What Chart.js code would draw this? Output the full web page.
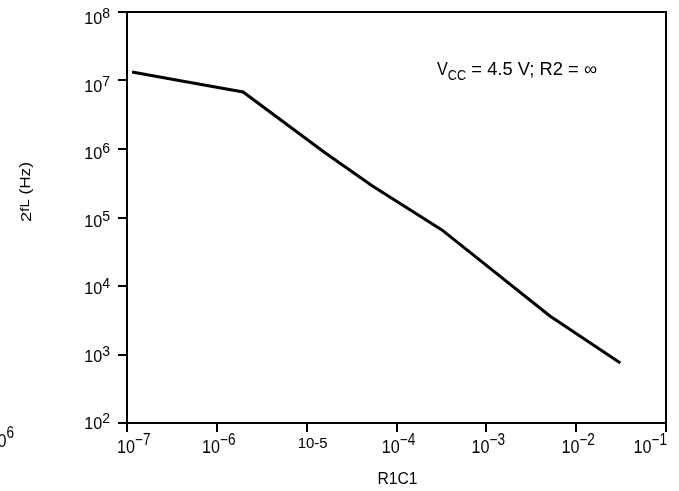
<!DOCTYPE html>
<html><head><meta charset="utf-8">
<script src="https://cdn.jsdelivr.net/npm/chart.js@4/dist/chart.umd.min.js"></script>
<style>html,body{margin:0;padding:0;background:#fff;}#wrap{width:679px;height:491px;}</style>
</head><body><div id="wrap"><canvas id="c" width="679" height="491"></canvas></div>
<script>
// ---- data ----
const rcValues   = [1.14e-7, 4.7e-7, 1.96e-6, 1.6e-5, 5.35e-5, 3.2e-4, 5.1e-3, 3.1e-2];
const freqValues = [1.33e7, 9.5e6, 6.8e6, 8.8e5, 2.9e5, 6.6e4, 3.65e3, 7.5e2];
const xTickValues = [1e-7, 1e-6, 1e-5, 1e-4, 1e-3, 1e-2, 1e-1];
const xTickExps   = ['−7', '−6', '-5', '−4', '−3', '−2', '−1'];
const yTickValues = [1e2, 1e3, 1e4, 1e5, 1e6, 1e7, 1e8];
const yTickExps   = ['2', '3', '4', '5', '6', '7', '8'];
const xTitle = 'R1C1';
const yTitleParts = ['2', 'fL', ' (Hz)'];
const noteParts = ['V', 'CC', ' = 4.5 V; R2 = ∞'];
const strayExp = '6';

const FONT = '"Liberation Sans", Arial, "Helvetica Neue", sans-serif';

function txt(ctx, s, x, y, size, sx, align) {
  ctx.save();
  ctx.font = size + 'px ' + FONT;
  ctx.translate(x, y);
  ctx.scale(sx, 1);
  ctx.textAlign = align || 'left';
  ctx.textBaseline = 'alphabetic';
  ctx.fillText(s, 0, 0);
  ctx.restore();
}
function w(ctx, s, size, sx) { ctx.font = size + 'px ' + FONT; return ctx.measureText(s).width * sx; }

const extras = {
  id: 'extras',
  afterDraw(chart) {
    const ctx = chart.ctx, a = chart.chartArea;
    const xs = chart.scales.x, ys = chart.scales.y;
    ctx.save();
    ctx.fillStyle = '#000';
    // top and right frame
    ctx.strokeStyle = '#000'; ctx.lineWidth = 2;
    ctx.beginPath();
    ctx.moveTo(a.left - 1, a.top); ctx.lineTo(a.right, a.top); ctx.lineTo(a.right, a.bottom);
    ctx.stroke();

    // y tick labels: "10" + superscript exponent
    yTickValues.forEach((v, i) => {
      const ty = ys.getPixelForValue(v) + (-0.5 + i);
      const base = ty + 6.5;
      const ew = w(ctx, yTickExps[i], 14, 1);
      const right = a.left - 17;
      txt(ctx, yTickExps[i], right, base - 6, 14, 1, 'right');
      txt(ctx, '10', right - ew, base, 17, 0.95, 'right');
    });

    // x tick labels
    xTickValues.forEach((v, i) => {
      const tx = xs.getPixelForValue(v);
      if (xTickExps[i] === '-5') {
        txt(ctx, '10' + xTickExps[i], tx + 6, a.bottom + 25, 15, 1, 'center');
        return;
      }
      const bw = w(ctx, '10', 19, 0.85), ew = w(ctx, xTickExps[i], 16, 0.85);
      let left = tx + 2 - (bw + ew) / 2;
      left = Math.max(left, a.left - 10);
      left = Math.min(left, a.right + 1 - (bw + ew));
      txt(ctx, '10', left, a.bottom + 30, 19, 0.85);
      txt(ctx, xTickExps[i], left + bw, a.bottom + 22, 16, 0.85);
    });

    // x axis title
    txt(ctx, xTitle, (a.left + a.right) / 2 + 1, 484, 17, 0.92, 'center');

    // annotation
    let x = a.left + 310;
    const y = a.top + 63;
    txt(ctx, noteParts[0], x, y, 18, 0.9); x += w(ctx, noteParts[0], 18, 0.9);
    txt(ctx, noteParts[1], x, y + 5, 15, 0.85); x += w(ctx, noteParts[1], 15, 0.85);
    const restW = w(ctx, noteParts[2], 18, 1);
    txt(ctx, noteParts[2], x, y, 18, (597 - x) / restW);

    // y title (rotated), stretched to the reference extent
    ctx.save();
    ctx.translate(31, 222);
    ctx.rotate(-Math.PI / 2);
    const w0 = w(ctx, yTitleParts[0], 15, 1), w1 = w(ctx, yTitleParts[1], 12, 1), w2 = w(ctx, yTitleParts[2], 14, 1);
    const k = 60 / (w0 + w1 + w2);
    let t = 0;
    txt(ctx, yTitleParts[0], t, 0, 15, k); t += w0 * k;
    txt(ctx, yTitleParts[1], t, -2.5, 12, k); t += w1 * k;
    txt(ctx, yTitleParts[2], t, -1.5, 14, k);
    ctx.restore();

    // stray cropped label at lower-left
    const sw = w(ctx, strayExp, 16, 0.85);
    txt(ctx, strayExp, 14, 438, 16, 0.85, 'right');
    txt(ctx, '10', 14 - sw, 447, 19, 0.85, 'right');
    ctx.restore();
  }
};

new Chart(document.getElementById('c'), {
  type: 'line',
  data: {
    datasets: [{
      data: rcValues.map((v, i) => ({x: v, y: freqValues[i]})),
      borderColor: '#000', borderWidth: 3, pointRadius: 0, tension: 0, fill: false
    }]
  },
  options: {
    responsive: false, animation: false,
    layout: {padding: {left: 0, right: 13, top: 12, bottom: 0}},
    plugins: {legend: {display: false}, tooltip: {enabled: false}},
    scales: {
      x: {
        type: 'logarithmic', min: 1e-7, max: 1e-1,
        afterBuildTicks: s => { s.ticks = xTickValues.map(v => ({value: v})); },
        afterFit: s => { s.height = 68; s.paddingLeft = 0; s.paddingRight = 0; },
        ticks: {display: false, autoSkip: false},
        grid: {drawOnChartArea: false, drawTicks: true, tickLength: 9, color: '#000', lineWidth: 2},
        border: {color: '#000', width: 2}
      },
      y: {
        type: 'logarithmic', min: 1e2, max: 1e8,
        afterBuildTicks: s => { s.ticks = yTickValues.map(v => ({value: v})); },
        afterFit: s => { s.width = 127; s.paddingTop = 0; s.paddingBottom = 0; },
        ticks: {display: false, autoSkip: false},
        grid: {drawOnChartArea: false, drawTicks: true, tickLength: 9, color: '#000', lineWidth: 2},
        border: {color: '#000', width: 2}
      }
    }
  },
  plugins: [extras]
});
</script>
</body></html>
